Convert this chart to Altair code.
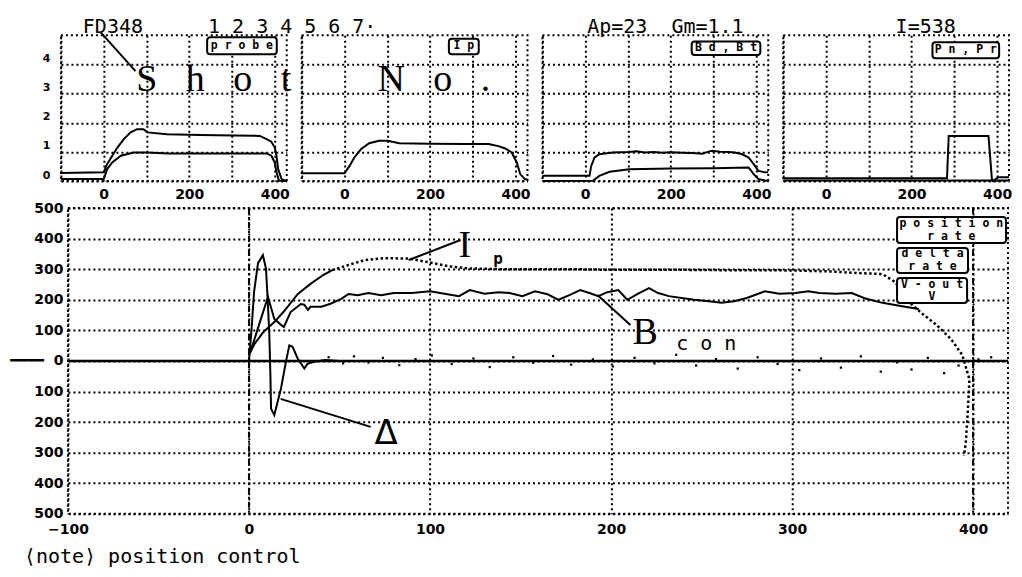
import altair as alt
import pandas as pd

# ---------------- top panels: tick values ----------------
top_x_ticks = [-100, 0, 100, 200, 300, 400]
top_y_ticks = [0, 1, 2, 3, 4]

# panel 1 : probe (two traces)
probe_a_x = [-100, 0, 8, 20, 32, 47, 63, 78, 93, 102, 148, 226, 303, 365, 381, 392, 400, 404, 408, 416, 428]
probe_a_y = [0.28, 0.30, 0.58, 0.87, 1.15, 1.44, 1.67, 1.78, 1.78, 1.67, 1.61, 1.58, 1.56, 1.55, 1.44, 1.35, 1.15, 0.87, 0.41, 0.07, 0.0]
probe_b_x = [-100, 0, 8, 20, 40, 70, 102, 150, 250, 381, 392, 400, 404, 410, 428]
probe_b_y = [0.07, 0.07, 0.41, 0.64, 0.87, 0.98, 0.98, 0.95, 0.95, 0.95, 0.87, 0.64, 0.30, 0.01, 0.0]

# panel 2 : Ip
ip_top_x = [-100, 0, 12, 23, 39, 58, 81, 101, 128, 200, 280, 337, 360, 376, 391, 403, 411, 422, 428]
ip_top_y = [0.27, 0.27, 0.52, 0.81, 1.10, 1.30, 1.38, 1.38, 1.30, 1.28, 1.27, 1.27, 1.20, 1.12, 0.98, 0.64, 0.24, 0.07, 0.05]

# panel 3 : Bd, Bt
bd_x = [-100, 10, 14, 22, 33, 64, 103, 120, 140, 160, 181, 200, 228, 250, 274, 290, 297, 315, 336, 350, 367, 382, 394, 405, 421, 428]
bd_y = [0.18, 0.18, 0.52, 0.81, 0.92, 0.98, 1.00, 1.02, 0.98, 1.00, 0.97, 0.99, 0.97, 0.96, 0.94, 1.02, 1.04, 1.01, 1.00, 0.98, 0.92, 0.81, 0.58, 0.35, 0.30, 0.30]
bt_x = [-100, 18, 33, 57, 103, 200, 300, 382, 394, 405, 428]
bt_y = [0.0, 0.01, 0.18, 0.32, 0.41, 0.43, 0.44, 0.47, 0.24, 0.07, 0.0]

# panel 4 : Pn, Pr
pn_x = [-100, 283, 287, 380, 388, 390, 403, 428]
pn_y = [0.10, 0.10, 1.55, 1.55, 0.07, 0.0, 0.13, 0.13]
pr_x = [-100, 390, 428]
pr_y = [0.02, 0.02, 0.02]

# ---------------- main panel ----------------
main_x_ticks = [-100, 0, 100, 200, 300, 400]
main_y_ticks = [-500, -400, -300, -200, -100, 0, 100, 200, 300, 400, 500]
marker_x = [0, 400]

ip_solid_x = [0, 3, 8, 14, 19, 27, 34, 41, 46]
ip_solid_y = [20, 55, 95, 127, 160, 219, 252, 281, 297]
ip_dot_x = [46, 55, 64, 75, 88, 100, 110, 120, 140, 160, 180, 200, 220, 240, 260, 280, 300, 320, 335, 350, 357, 364, 372, 380, 388, 394, 398, 397, 396, 395]
ip_dot_y = [297, 314, 330, 336, 335, 322, 310, 303, 300, 300, 300, 298, 298, 298, 297, 297, 296, 293, 288, 284, 258, 196, 154, 117, 70, 20, -60, -176, -265, -310]

delta_x = [0, 1.5, 2.8, 5, 7.7, 9.4, 10.3, 11.2, 11.8, 12.2, 14, 15.8, 17.7, 20.4, 22.3, 24.1, 26.9, 30.6, 32.4, 36, 42, 50]
delta_y = [0, 110, 225, 320, 346, 302, 204, 95, -36, -156, -177, -134, -90, -3, 51, 46, 8, -25, -9, -3, 3, 0]

bcon_x = [0.5, 5.5, 10.5, 14, 17.7, 19.3, 23, 28.7, 30.5, 32.6, 34, 40, 45, 51, 55, 60, 66, 73, 80, 90, 100, 108, 116, 122, 130, 138, 144, 151, 158, 165, 171, 177, 183, 188, 193, 198, 204, 209, 215, 221, 226, 232, 239, 246, 254, 261, 268, 275, 285, 293, 302, 309, 315, 324, 333, 340, 350, 360, 370]
bcon_y = [24, 117, 209, 137, 118, 111, 160, 186, 184, 167, 177, 177, 187, 203, 219, 215, 222, 215, 222, 222, 228, 220, 212, 232, 220, 225, 222, 212, 228, 218, 200, 215, 232, 222, 212, 225, 232, 200, 220, 238, 222, 212, 206, 200, 195, 190, 195, 206, 228, 220, 222, 228, 222, 220, 222, 205, 190, 180, 170]

noise_x = [44, 52, 58, 66, 74, 83, 92, 101, 112, 124, 133, 146, 157, 168, 178, 190, 201, 213, 224, 236, 247, 258, 270, 281, 292, 304, 316, 327, 338, 349, 358, 366, 375, 384, 392, 403, 410]
noise_y = [12, -8, 15, -5, 10, -14, 6, 18, -10, 8, -20, 12, -6, 16, -12, 5, -18, 10, -8, 20, -15, 6, -25, 12, -10, -30, 8, -22, 15, -35, -5, -28, 10, -40, -15, 5, 12]

NB = "\u00a0"
MONO = "DejaVu Sans Mono"
SERIF = "Liberation Serif"
TOP_W, TOP_H = 226, 146
MAIN_W, MAIN_H = 941, 306
BOX_FONT = 11.5


def series(name, xs, ys):
    return pd.DataFrame({"x": xs, "y": ys, "s": name, "o": list(range(len(xs)))})


def spaced(word):
    return NB.join(list(word))


def text_layer(X, Y, rows, **mk):
    return alt.Chart(pd.DataFrame(rows)).mark_text(color="black", **mk).encode(x=X, y=Y, text="t:N")


def rule_layer(X, Y, rows, **mk):
    return alt.Chart(pd.DataFrame(rows)).mark_rule(color="black", **mk).encode(
        x=X, y=Y, x2="x2:Q", y2="y2:Q")


def box_layer(X, Y, rows):
    return alt.Chart(pd.DataFrame(rows)).mark_rect(
        fill="white", stroke="black", strokeWidth=2, cornerRadius=3).encode(
        x=X, y=Y, x2="x2:Q", y2="y2:Q")


def anchor(px, py):
    # invisible layout anchor (pixel offsets relative to the panel's plot area)
    return alt.Chart(pd.DataFrame({"a": [0]})).mark_rule(strokeOpacity=0, strokeWidth=1).encode(
        x=alt.value(px), x2=alt.value(px + 1), y=alt.value(py), y2=alt.value(py + 1))


def spacer(w, h):
    return alt.Chart(pd.DataFrame({"a": [0]})).mark_rule(strokeOpacity=0).encode(
        x=alt.value(0), x2=alt.value(w), y=alt.value(0), y2=alt.value(h)
    ).properties(width=w, height=h, view=alt.ViewBackground(strokeOpacity=0))


def top_panel(frames, box, label, show_y, extra=()):
    X = alt.X("x:Q", scale=alt.Scale(domain=[-100, 428], nice=False, zero=False),
              axis=alt.Axis(values=top_x_ticks, title=None, labelPadding=6, labelFontSize=14,
                            labelFlush=False,
                            labelExpr="datum.value % 200 == 0 ? datum.label : ''"))
    Y = alt.Y("y:Q", scale=alt.Scale(domain=[0, 5], nice=False, zero=False),
              axis=alt.Axis(values=top_y_ticks, title=None, labels=show_y, labelFontSize=11,
                            labelPadding=11, labelOffset=-6))
    df = pd.concat(frames, ignore_index=True)
    lines = alt.Chart(df).mark_line(color="black", strokeWidth=2).encode(
        x=X, y=Y, detail="s:N", order="o:Q")
    bx = box_layer(X, Y, [box])
    bt = text_layer(X, Y, [{"x": (box["x"] + box["x2"]) / 2, "y": (box["y"] + box["y2"]) / 2, "t": label}],
                    font=MONO, fontSize=BOX_FONT, fontWeight="bold", align="center", baseline="middle")
    layers = [lines, bx, bt] + [f(X, Y) for f in extra] + [anchor(0, TOP_H + 25)]
    return alt.layer(*layers).properties(width=TOP_W, height=TOP_H)


# annotations above / across top panels
def p1_extra_text(X, Y):
    return text_layer(X, Y, [{"x": -48.8, "y": 5.08, "t": "FD348"},
                             {"x": 244, "y": 5.08, "t": "1 2 3 4 5 6 7·".replace(" ", NB)}],
                      font=MONO, fontSize=20, align="left", baseline="alphabetic")


def p1_extra_line(X, Y):
    return rule_layer(X, Y, [{"x": -7, "y": 5.10, "x2": 74.4, "y2": 3.77}], strokeWidth=2)


def p1_extra_shot(X, Y):
    return text_layer(X, Y, [{"x": 76, "y": 3.1, "t": NB.join(["S", NB, "h", NB, "o", NB, "t"])},
                             {"x": 640, "y": 3.1, "t": NB.join(["N", NB, "o", NB, "."])}],
                      font=SERIF, fontSize=38, align="left", baseline="alphabetic")


def p1_anchor(X, Y):
    return anchor(-52, -26)


def p3_extra(X, Y):
    return text_layer(X, Y, [{"x": 4.7, "y": 5.08, "t": "Ap=23" + NB + NB + "Gm=1.1"}],
                      font=MONO, fontSize=20, align="left", baseline="alphabetic")


def p4_extra(X, Y):
    return text_layer(X, Y, [{"x": 162.8, "y": 5.08, "t": "I=538"}],
                      font=MONO, fontSize=20, align="left", baseline="alphabetic")


p1 = top_panel([series("a", probe_a_x, probe_a_y), series("b", probe_b_x, probe_b_y)],
               {"x": 241.9, "x2": 404.7, "y": 4.93, "y2": 4.35}, spaced("probe"), True,
               [p1_extra_line, p1_extra_text, p1_extra_shot, p1_anchor])
p2 = top_panel([series("ip", ip_top_x, ip_top_y)],
               {"x": 244.2, "x2": 314, "y": 4.88, "y2": 4.35}, spaced("Ip"), False)
p3 = top_panel([series("bd", bd_x, bd_y), series("bt", bt_x, bt_y)],
               {"x": 249, "x2": 409.5, "y": 4.79, "y2": 4.32}, spaced("Bd,Bt"), False, [p3_extra])
p4 = top_panel([series("pn", pn_x, pn_y), series("pr", pr_x, pr_y)],
               {"x": 249, "x2": 404.9, "y": 4.76, "y2": 4.21}, spaced("Pn,Pr"), False, [p4_extra])

top_row = alt.hconcat(p1, p2, p3, p4, spacing=15, bounds="flush")

# ---------------- main chart ----------------
MX = alt.X("x:Q", scale=alt.Scale(domain=[-100, 419.3], nice=False, zero=False),
           axis=alt.Axis(values=main_x_ticks, title=None, labelPadding=9, labelFlush=False))
MY = alt.Y("y:Q", scale=alt.Scale(domain=[-500, 500], nice=False, zero=False),
           axis=alt.Axis(values=main_y_ticks, title=None, labelPadding=5,
                         labelExpr="datum.value == 0 ? '━━━━" + NB + NB + "0' : format(abs(datum.value), 'd')"))

markers = alt.Chart(pd.DataFrame({"x": marker_x})).mark_rule(
    color="black", strokeWidth=2, strokeDash=[6, 3, 2, 3]).encode(x=MX)
zero_line = alt.Chart(pd.DataFrame({"y": [0]})).mark_rule(color="black", strokeWidth=2.5).encode(y=MY)

solid_df = pd.concat([series("ip", ip_solid_x, ip_solid_y), series("delta", delta_x, delta_y),
                      series("bcon", bcon_x, bcon_y)], ignore_index=True)
solid_lines = alt.Chart(solid_df).mark_line(color="black", strokeWidth=2).encode(
    x=MX, y=MY, detail="s:N", order="o:Q")
dot_line = alt.Chart(series("ipdot", ip_dot_x, ip_dot_y)).mark_line(
    color="black", strokeWidth=2.5, strokeDash=[2.5, 2.5]).encode(x=MX, y=MY, order="o:Q")
noise = alt.Chart(series("noise", noise_x, noise_y)).mark_point(
    shape="square", filled=True, color="black", size=5, opacity=1).encode(x=MX, y=MY)

pointers = rule_layer(MX, MY, [
    {"x": 116.9, "y": 395.4, "x2": 88.2, "y2": 330},
    {"x": 192.5, "y": 215.7, "x2": 210.7, "y2": 117.6},
    {"x": 17.5, "y": -124, "x2": 67.2, "y2": -215.7},
], strokeWidth=2)

big_serif = text_layer(MX, MY, [{"x": 115.8, "y": 340, "t": "I"}, {"x": 211.8, "y": 55.6, "t": "B"}],
                       font=SERIF, fontSize=38, align="left", baseline="alphabetic")
small_p = text_layer(MX, MY, [{"x": 135, "y": 317, "t": "p"}],
                     font=MONO, fontSize=16, fontWeight="bold", align="left", baseline="alphabetic")
con_txt = text_layer(MX, MY, [{"x": 236, "y": 36, "t": spaced("con")}],
                     font=MONO, fontSize=20, align="left", baseline="alphabetic")
delta_txt = text_layer(MX, MY, [{"x": 75.8, "y": -271, "t": "Δ"}],
                       font="DejaVu Sans", fontSize=34, align="center", baseline="alphabetic")
note_txt = text_layer(MX, MY, [{"x": -124.3, "y": -662, "t": "⟨note⟩ position control"}],
                      font=MONO, fontSize=20, align="left", baseline="alphabetic")

main_boxes = box_layer(MX, MY, [
    {"x": 358, "x2": 418.2, "y": 470.6, "y2": 385.6},
    {"x": 358, "x2": 397.2, "y": 369.3, "y2": 287.6},
    {"x": 358, "x2": 396.7, "y": 271, "y2": 189.5},
])
box_txt = text_layer(MX, MY, [
    {"x": 388, "y": 449.3, "t": spaced("position")},
    {"x": 388, "y": 406.9, "t": spaced("rate")},
    {"x": 377.6, "y": 349.7, "t": spaced("delta")},
    {"x": 377.6, "y": 308.8, "t": spaced("rate")},
    {"x": 377.3, "y": 250, "t": spaced("V-out")},
    {"x": 377.3, "y": 209, "t": "V"},
], font=MONO, fontSize=BOX_FONT, fontWeight="bold", align="center", baseline="middle")

main = alt.layer(markers, zero_line, noise, dot_line, solid_lines, pointers,
                 big_serif, small_p, con_txt, delta_txt, note_txt, main_boxes, box_txt,
                 anchor(-59, -8)
                 ).properties(width=MAIN_W, height=MAIN_H)

main_row = alt.hconcat(spacer(1, 1), main, spacing=6, bounds="flush")

chart = alt.vconcat(top_row, main_row, spacing=-17, bounds="full").properties(
    padding={"left": 0, "top": 0, "right": 0, "bottom": 0}
).configure(background="white").configure_view(
    stroke="black", strokeDash=[2, 3], strokeWidth=2
).configure_axis(
    grid=True, gridColor="black", gridDash=[2, 3], gridWidth=2, gridOpacity=1,
    domain=False, ticks=False, labelColor="black", labelFont="DejaVu Sans",
    labelFontWeight="bold", labelFontSize=14
)

chart.save("out.html", embed_options={"renderer": "svg", "actions": False})
